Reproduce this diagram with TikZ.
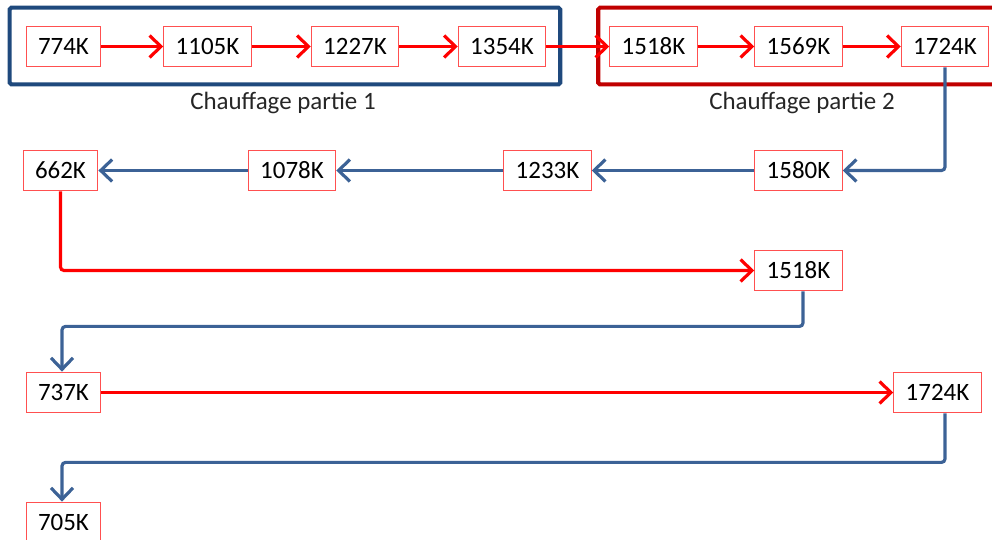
\documentclass[tikz,border=0pt]{standalone}
\usepackage{fontspec}
\setmainfont{Carlito}
\usepackage{tikz}
\usetikzlibrary{positioning, arrows.meta, calc}
\definecolor{heatred}{RGB}{255, 0, 0}
\definecolor{boxred}{RGB}{255, 80, 80}
\definecolor{coolblue}{RGB}{60, 98, 150}
\definecolor{frameblue}{RGB}{31, 73, 125}
\definecolor{framered}{RGB}{192, 0, 0}
\tikzset{
    temp box/.style={rectangle, draw=boxred, line width=0.6pt, fill=white, inner xsep=6.8pt, minimum height=23.2pt, font=\fontsize{14.2}{17}\selectfont},
    heat arrow/.style={-{Straight Barb[length=6.5pt, width=12.5pt]}, line width=1.8pt, heatred, rounded corners=2pt},
    cool arrow/.style={-{Straight Barb[length=6.5pt, width=12.5pt]}, line width=1.8pt, coolblue, rounded corners=2pt},
    stage frame/.style={line width=2.3pt, rounded corners=1pt},
    stage label/.style={font=\fontsize{14.2}{17}\selectfont, text=black!85},
}

\begin{document}
\begin{tikzpicture}[x=0.02cm, y=-0.02cm]
\clip (0,0) rectangle (992,539);
\node[temp box] (a1) at (63.5,46.5) {774K};
\node[temp box] (a2) at (207.5,46.5) {1105K};
\node[temp box] (a3) at (355,46.5) {1227K};
\node[temp box] (a4) at (502,46.5) {1354K};
\node[temp box] (a5) at (653.5,46.5) {1518K};
\node[temp box] (a6) at (798.5,46.5) {1569K};
\node[temp box] (a7) at (945,46.5) {1724K};
\node[temp box] (b1) at (60.5,170.5) {662K};
\node[temp box] (b2) at (292,170.5) {1078K};
\node[temp box] (b3) at (547.5,170.5) {1233K};
\node[temp box] (b4) at (798.5,170.5) {1580K};
\node[temp box] (c1) at (798.5,270.5) {1518K};
\node[temp box] (d1) at (63.5,392.5) {737K};
\node[temp box] (d2) at (937.5,392.5) {1724K};
\node[temp box] (e1) at (63.5,522.5) {705K};
\draw[stage frame, frameblue] ([shift={(-16,-18)}]a1.north west) rectangle ([shift={(14,17)}]a4.south east);
\draw[stage frame, framered] ([shift={(-11,-18)}]a5.north west) rectangle ([shift={(20,17)}]a7.south east);
\node[stage label] (l1) at (283,103) {Chauffage partie 1};
\node[stage label] (l2) at (802,103) {Chauffage partie 2};
\draw[heat arrow] (a1) -- (a2);
\draw[heat arrow] (a2) -- (a3);
\draw[heat arrow] (a3) -- (a4);
\draw[heat arrow] (a4) -- (a5);
\draw[heat arrow] (a5) -- (a6);
\draw[heat arrow] (a6) -- (a7);
\draw[cool arrow] (a7.south) |- (b4.east);
\draw[cool arrow] (b4) -- (b3);
\draw[cool arrow] (b3) -- (b2);
\draw[cool arrow] (b2) -- (b1);
\draw[heat arrow] (b1.south) |- (c1.west);
\draw[cool arrow] ([shift={(4.5,0)}]c1.south) -- ++(0,35) -| ([shift={(-1.5,0)}]d1.north);
\draw[heat arrow] (d1) -- (d2);
\draw[cool arrow] ([shift={(7.5,0)}]d2.south) -- ++(0,49) -| ([shift={(-1.5,0)}]e1.north);
\end{tikzpicture}
\end{document}
